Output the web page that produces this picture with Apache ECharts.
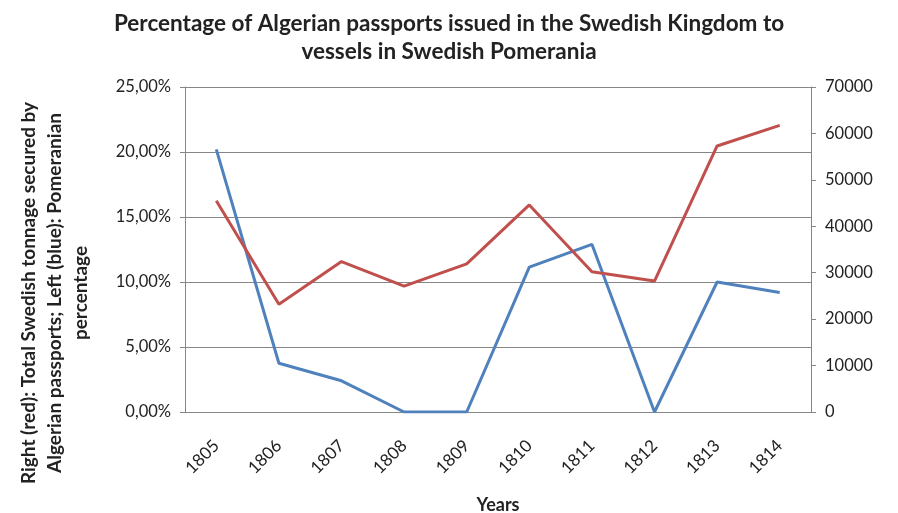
<!DOCTYPE html>
<html>
<head>
<meta charset="utf-8">
<script src="https://cdn.jsdelivr.net/npm/echarts@6/dist/echarts.min.js"></script>
<style>
  html, body { margin: 0; padding: 0; background: #fff; }
  #chart { width: 898px; height: 513px; }
</style>
</head>
<body>
<div id="chart"></div>
<script>
// data
const years = ['1805', '1806', '1807', '1808', '1809', '1810', '1811', '1812', '1813', '1814'];
// left axis, percent
const pomeranianPct = [20.2, 3.75, 2.4, 0, 0, 11.15, 12.9, 0, 10.0, 9.2];
// right axis, tonnage
const swedishTonnage = [45500, 23200, 32400, 27100, 31900, 44600, 30200, 28200, 57300, 61750];

const FONT = 'Lato';

var myChart = echarts.init(document.getElementById('chart'));
var option = {
    animation: false,
    title: {
        text: 'Percentage of Algerian passports issued in the Swedish Kingdom to\nvessels in Swedish Pomerania',
        left: 444,
        top: 5,
        textAlign: 'center',
        textStyle: { fontFamily: FONT, fontSize: 22.5, fontWeight: 'bold', color: '#222', lineHeight: 28 }
    },
    grid: { left: 185, right: 87, top: 87, bottom: 101, outerBoundsMode: 'none' },
    xAxis: {
        type: 'category',
        data: years,
        name: 'Years',
        nameLocation: 'middle',
        nameGap: 84,
        nameTextStyle: { fontFamily: FONT, fontSize: 18, fontWeight: 'bold', color: '#222' },
        axisLine: { lineStyle: { color: '#868686' } },
        axisTick: { show: false },
        axisLabel: { rotate: 45, margin: 31, fontFamily: FONT, fontSize: 17, color: '#222' }
    },
    yAxis: [
        {
            type: 'value',
            min: 0,
            max: 25,
            interval: 5,
            axisLine: { show: true, lineStyle: { color: '#868686' } },
            axisTick: { show: true, length: 5, lineStyle: { color: '#868686' } },
            splitLine: { lineStyle: { color: '#868686' } },
            axisLabel: {
                margin: 14, fontFamily: FONT, fontSize: 16.5, color: '#222',
                formatter: function (v) { return v.toFixed(2).replace('.', ',') + '%'; }
            }
        },
        {
            type: 'value',
            min: 0,
            max: 70000,
            interval: 10000,
            axisLine: { show: true, lineStyle: { color: '#868686' } },
            axisTick: { show: true, length: 5, lineStyle: { color: '#868686' } },
            splitLine: { show: false },
            axisLabel: {
                margin: 14, fontFamily: FONT, fontSize: 16.5, color: '#222',
                formatter: function (v) { return String(v); }
            }
        }
    ],
    graphic: [
        {
            type: 'text',
            x: 55,
            y: 293,
            rotation: Math.PI / 2,
            style: {
                text: 'Right (red): Total Swedish tonnage secured by\nAlgerian passports; Left (blue): Pomeranian\npercentage',
                align: 'center',
                verticalAlign: 'middle',
                fontFamily: FONT,
                fontSize: 19,
                fontWeight: 'bold',
                lineHeight: 26,
                fill: '#222'
            }
        }
    ],
    series: [
        {
            name: 'Pomeranian percentage',
            type: 'line',
            yAxisIndex: 0,
            data: pomeranianPct,
            symbol: 'none',
            lineStyle: { color: '#4F81BD', width: 3 },
            itemStyle: { color: '#4F81BD' }
        },
        {
            name: 'Total Swedish tonnage',
            type: 'line',
            yAxisIndex: 1,
            data: swedishTonnage,
            symbol: 'none',
            lineStyle: { color: '#C0504D', width: 3 },
            itemStyle: { color: '#C0504D' }
        }
    ]
};
myChart.setOption(option);
</script>
</body>
</html>
